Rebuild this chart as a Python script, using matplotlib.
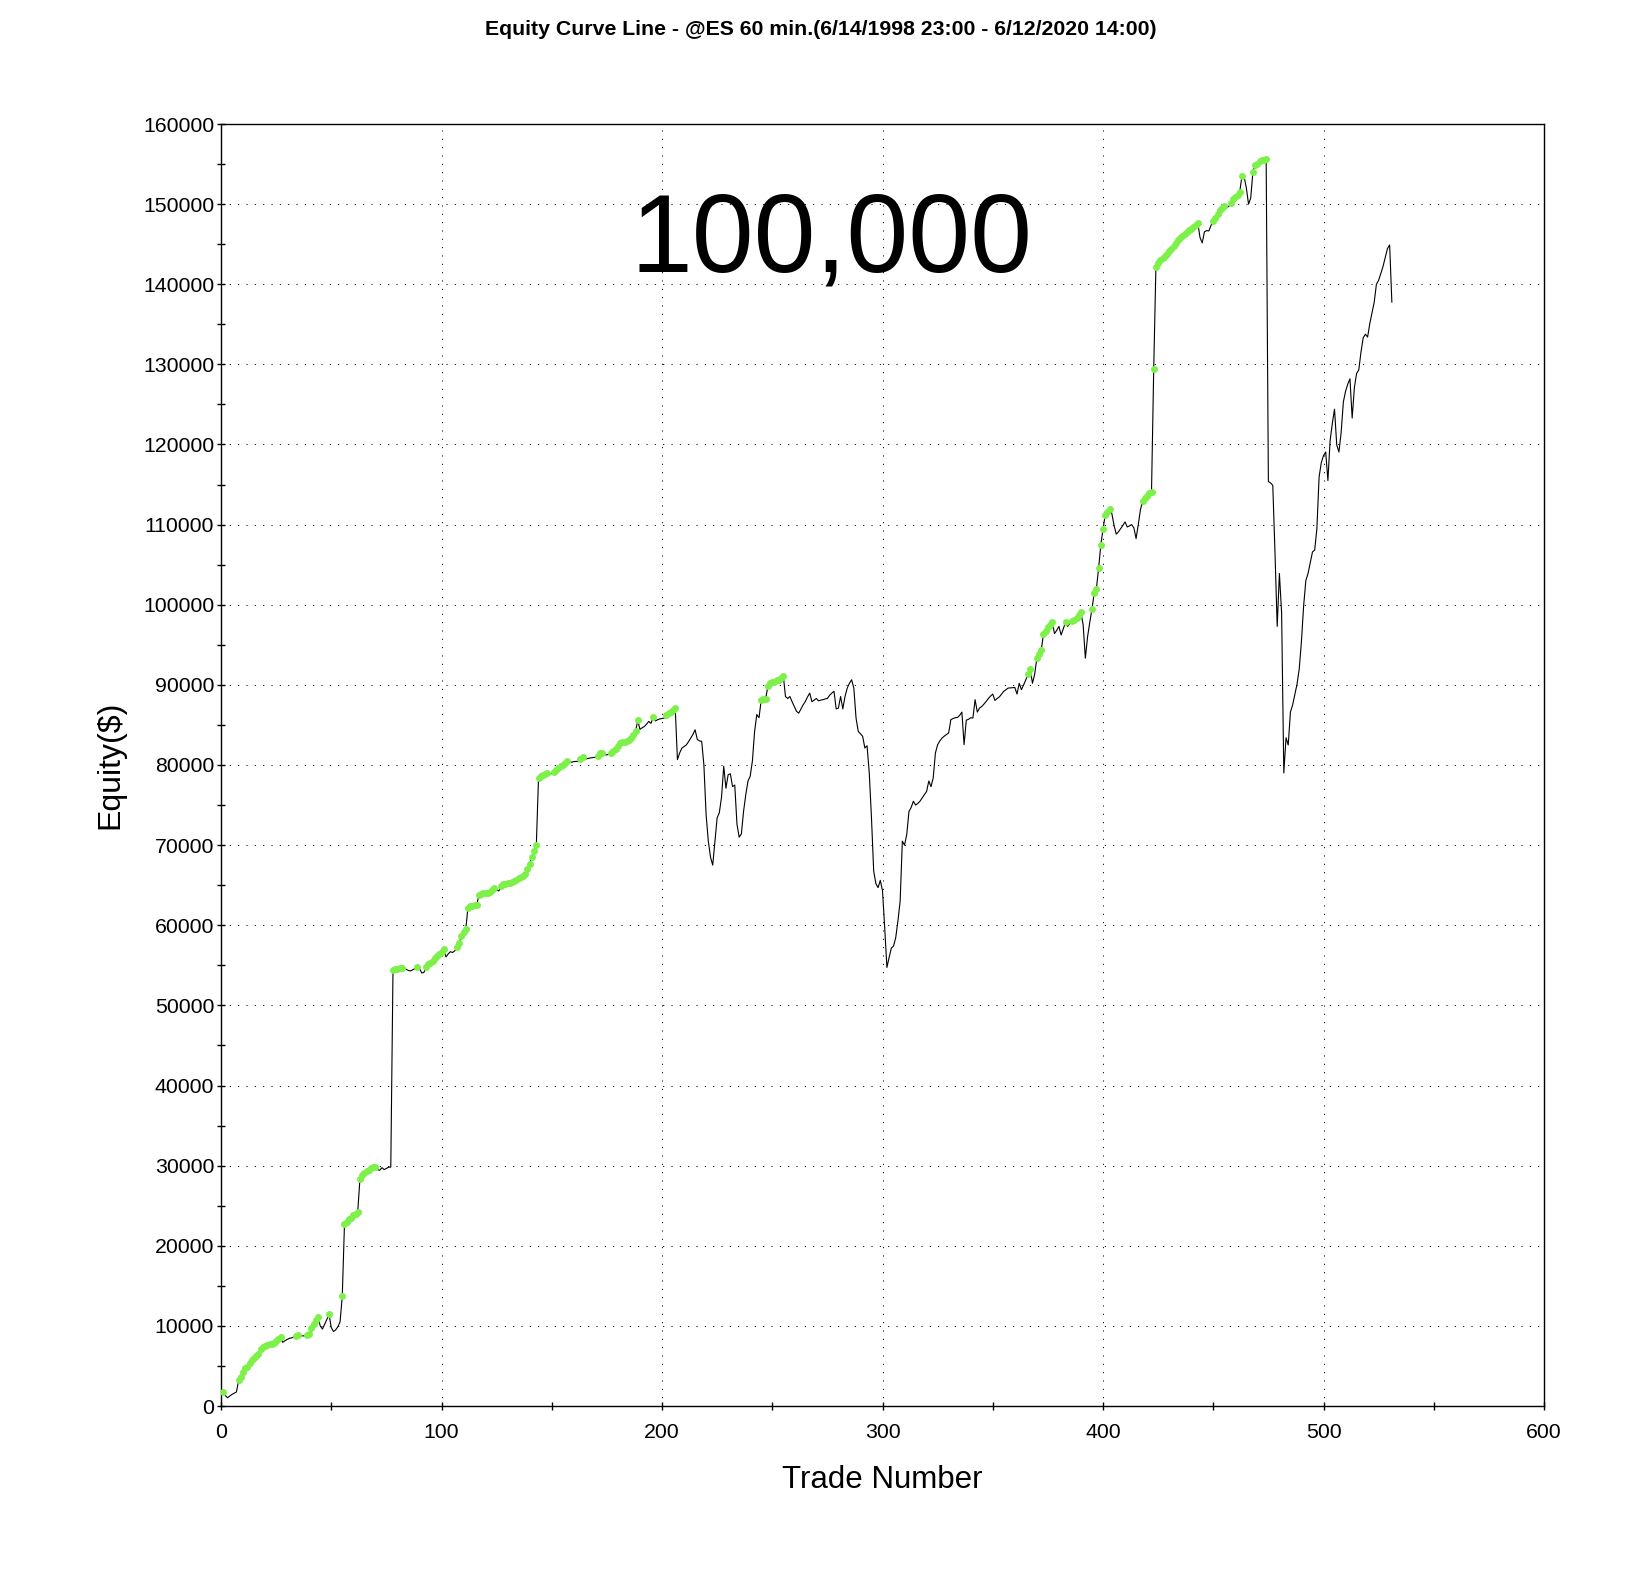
import matplotlib
matplotlib.use("Agg")
import matplotlib.pyplot as plt
import numpy as np
from matplotlib.ticker import MultipleLocator

plt.rcParams['font.family'] = ['Liberation Sans', 'DejaVu Sans']

# ---- data: closed-trade equity, one value per trade (trade 1 .. 531) ----
equity_t001_078 = [
    1780, 1300, 1030, 1250, 1450, 1600, 1750, 3200, 3600, 4300,
    4700, 4900, 5400, 5700, 5950, 6200, 6500, 7100, 7400, 7550,
    7650, 7750, 7800, 7850, 8100, 8300, 8600, 7950, 8150, 8300,
    8450, 8500, 8600, 8700, 8800, 8780, 8750, 8760, 8850, 9000,
    9700, 10200, 10700, 11100, 10000, 9600, 10200, 10800, 11450, 9800,
    9300, 9500, 9900, 10500, 13700, 22700, 23000, 23300, 23500, 23800,
    24000, 24230, 28300, 28800, 29100, 29300, 29500, 29700, 29800, 29850,
    29500, 29420, 29750, 29500, 29650, 29800, 29820, 54400]

equity_t079_144 = [
    54550, 54600, 54620, 54650, 54650, 54500, 54350, 54300, 54450, 54600,
    54730, 54650, 54050, 54100, 54800, 55150, 55350, 55600, 55900, 56150,
    56450, 56700, 57050, 56050, 56400, 56700, 56600, 56800, 57300, 57800,
    58600, 59100, 59500, 62200, 62350, 62450, 62500, 62550, 63800, 63950,
    63970, 64000, 64050, 64100, 64400, 64600, 64400, 64280, 64900, 65100,
    65200, 65250, 65300, 65400, 65550, 65700, 65900, 66000, 66150, 66400,
    67000, 67700, 68500, 69300, 70000, 78400]

equity_t145_206 = [
    78600, 78750, 78850, 79000, 78850, 78950, 79100, 79350, 79600, 79850,
    80050, 80200, 80460, 80400, 80350, 80420, 80450, 80440, 80700, 80960,
    80670, 80800, 80850, 80900, 80950, 80940, 81170, 81450, 81500, 81300,
    81250, 81400, 81550, 81700, 82000, 82330, 82700, 82870, 82920, 82950,
    83100, 83350, 83700, 84200, 85570, 84450, 84650, 84800, 85100, 85440,
    85200, 85940, 85500, 85650, 85750, 85800, 85860, 86200, 86450, 86650,
    86850, 87130]

equity_t207_290 = [
    80670, 81500, 82100, 82300, 82500, 82900, 83360, 83800, 84400, 83200,
    83000, 82950, 80000, 73800, 70500, 68500, 67500, 70500, 73400, 74050,
    76000, 79840, 77100, 78800, 78900, 77300, 77500, 72600, 71000, 71400,
    74240, 76300, 78000, 78600, 80500, 84200, 86300, 85900, 88150, 88200,
    88260, 89800, 90200, 90300, 90400, 90550, 90640, 90850, 91170, 88550,
    88300, 88550, 87900, 87300, 86700, 86470, 87000, 87500, 87930, 88500,
    88970, 87900, 88100, 88300, 88000, 88100, 88150, 88250, 88300, 88700,
    88970, 89200, 87000, 87100, 88550, 87000, 88550, 89600, 90200, 90640,
    89600, 85860, 84200, 83900]

equity_t291_370 = [
    83580, 82120, 82400, 79000, 73400, 66770, 65200, 64700, 65600, 64300,
    59700, 54730, 55980, 57140, 57400, 58460, 60540, 63000, 70500, 70000,
    71340, 74200, 74700, 75480, 75000, 75200, 75480, 75900, 76300, 76700,
    78000, 77300, 78400, 81500, 82540, 83000, 83360, 83600, 83800, 84000,
    85660, 85800, 85900, 85940, 86200, 86600, 82540, 85600, 85700, 85900,
    85860, 88150, 86600, 87100, 87300, 87600, 87930, 88300, 88600, 88850,
    88060, 88300, 88500, 88850, 89200, 89400, 89600, 89620, 89650, 89680,
    88850, 90200, 89400, 90000, 90640, 91330, 92000, 90200, 91300, 93330]

equity_t371_424 = [
    93830, 94370, 96310, 96700, 97200, 97500, 97800, 96400, 96800, 97300,
    96230, 97000, 97850, 97300, 97700, 97970, 98150, 98300, 98700, 99050,
    97480, 93330, 96000, 97800, 99470, 101420, 102000, 104530, 107440, 109430,
    111180, 111600, 111930, 111400, 109930, 108810, 109100, 109500, 109900, 110340,
    109700, 109850, 110000, 109600, 108260, 110000, 111900, 112920, 113300, 113600,
    113990, 114080, 129430, 142210]

equity_t425_474 = [
    142700, 143000, 143300, 143500, 143800, 144100, 144400, 144800, 145200, 145520,
    145800, 146030, 146300, 146500, 146750, 146950, 147150, 147400, 147660, 145820,
    145160, 146540, 146700, 146650, 147350, 147860, 148300, 148730, 149240, 149500,
    149750, 149600, 149700, 150200, 150700, 150900, 151200, 151530, 153460, 153410,
    152040, 150000, 150760, 154070, 154840, 155000, 155350, 155450, 155550, 155600]

equity_t475_531 = [
    115380, 115200, 114900, 106500, 97300, 103900, 99000, 79000, 83400, 82500,
    86600, 87500, 88800, 90100, 92000, 95460, 99910, 103030, 103920, 105260,
    106590, 106820, 109500, 115950, 117730, 118620, 119060, 115500, 120500, 122630,
    124410, 119950, 119060, 121500, 125300, 126640, 127530, 128200, 123300, 127090,
    128860, 129310, 131540, 133320, 133770, 133410, 135100, 136440, 137770, 140000,
    140500, 141340, 142230, 143340, 144450, 144900, 137770]

title_text = "Equity Curve Line - @ES 60 min.(6/14/1998 23:00 - 6/12/2020 14:00)"
overlay_text = "100,000"
x_label = "Trade Number"
y_label = "Equity($)"

equity = np.array(equity_t001_078 + equity_t079_144 + equity_t145_206 +
                  equity_t207_290 + equity_t291_370 + equity_t371_424 +
                  equity_t425_474 + equity_t475_531, dtype=float)
trades = np.arange(1, len(equity) + 1)

# new equity highs are marked with green dots
prev_max = np.maximum.accumulate(np.concatenate([[-np.inf], equity[:-1]]))
new_high = equity > prev_max

W, H = 1642, 1583
L, R, T, B = 221, 1544, 124, 1406
fig = plt.figure(figsize=(W / 100, H / 100), dpi=100)
ax = fig.add_axes([L / W, 1 - B / H, (R - L) / W, (B - T) / H])

ax.plot(trades, equity, color='black', lw=0.8, zorder=3)
ax.plot(trades[new_high], equity[new_high], 'o', ms=5.0, color='#7DF04A',
        mec='none', zorder=4)

ax.set_xlim(0, 600)
ax.set_ylim(0, 160000)
ax.xaxis.set_major_locator(MultipleLocator(100))
ax.xaxis.set_minor_locator(MultipleLocator(50))
ax.yaxis.set_major_locator(MultipleLocator(10000))
ax.yaxis.set_minor_locator(MultipleLocator(5000))
ax.grid(True, which='major', color='black', linestyle=(0, (1, 7)), lw=0.75)

for s in ax.spines.values():
    s.set_linewidth(1.0)
ax.tick_params(which='both', direction='inout', length=6, width=1.0,
               labelsize=15.3)
ax.tick_params(axis='y', pad=2)
ax.tick_params(axis='x', pad=9)

ax.set_xlabel(x_label, fontsize=22.5)
ax.xaxis.set_label_coords(0.5, -(1480 - B) / (B - T))
ax.xaxis.label.set_va('center')
ax.set_ylabel(y_label, fontsize=23)
ax.yaxis.set_label_coords(-(L - 110) / (R - L), 0.5)
ax.yaxis.label.set_va('center')

fig.text(0.5, 1 - 35 / H, title_text, ha='center', va='baseline',
         fontsize=15.3, fontweight='bold')
fig.text(831 / W, 1 - 271 / H, overlay_text, ha='center', va='baseline',
         fontsize=80)

fig.savefig('out.png', dpi=100, facecolor='white')
